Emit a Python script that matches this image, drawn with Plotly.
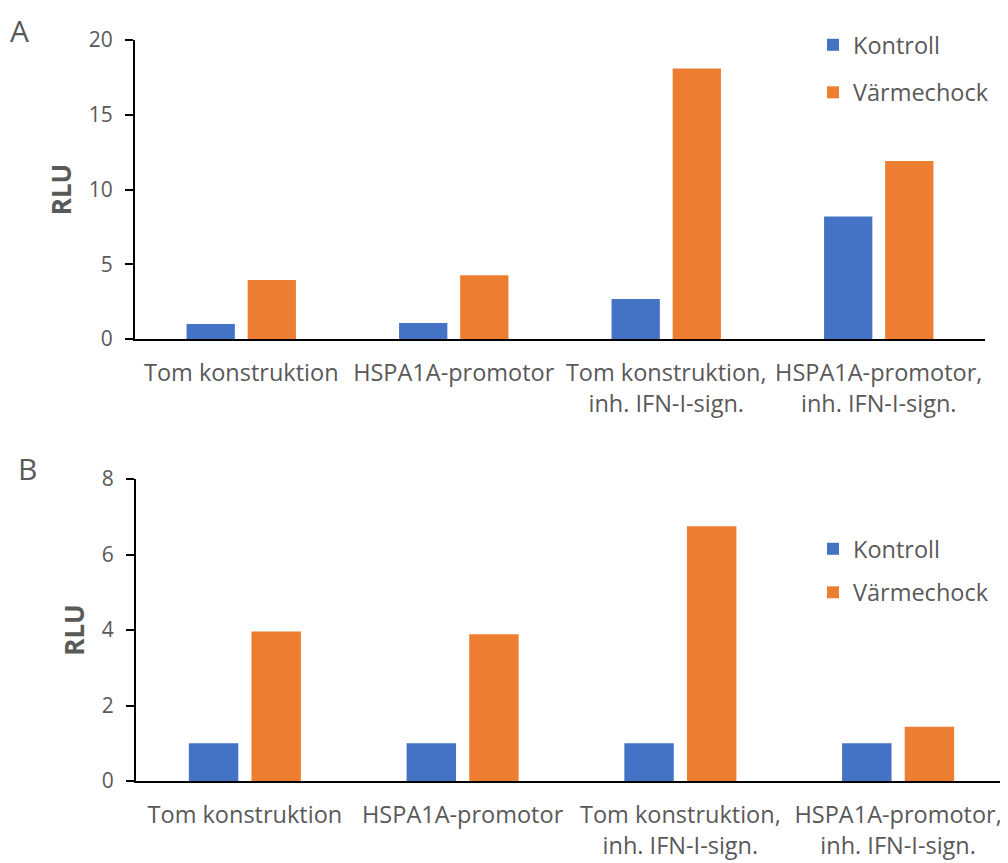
import plotly.graph_objects as go

categories_a = ["Tom konstruktion", "HSPA1A-promotor", "Tom konstruktion,<br>inh. IFN-I-sign.", "HSPA1A-promotor,<br>inh. IFN-I-sign."]
categories_b = ["Tom konstruktion", "HSPA1A-promotor", "Tom konstruktion,<br>inh. IFN-I-sign.", "HSPA1A-promotor,<br>inh. IFN-I-sign."]
kontroll_a = [1.0, 1.07, 2.67, 8.2]
varme_a = [3.95, 4.27, 18.1, 11.9]
kontroll_b = [1.0, 1.0, 1.0, 1.0]
varme_b = [3.96, 3.89, 6.75, 1.44]
yticks_a = [0, 5, 10, 15, 20]
yticks_b = [0, 2, 4, 6, 8]

BLUE = "#4472C4"
ORANGE = "#ED7D31"
GREY = "#595959"
FONT = "Open Sans"
OFF = 8  # page body margin
W, H = 1008 - OFF, 863 - OFF

fig = go.Figure()
fig.add_bar(x=categories_a, y=kontroll_a, name="Kontroll", marker_color=BLUE,
            xaxis="x", yaxis="y", legend="legend", legendgroup="a1")
fig.add_bar(x=categories_a, y=varme_a, name="Värmechock", marker_color=ORANGE,
            xaxis="x", yaxis="y", legend="legend", legendgroup="a2")
fig.add_bar(x=categories_b, y=kontroll_b, name="Kontroll", marker_color=BLUE,
            xaxis="x2", yaxis="y2", legend="legend2", legendgroup="b1")
fig.add_bar(x=categories_b, y=varme_b, name="Värmechock", marker_color=ORANGE,
            xaxis="x2", yaxis="y2", legend="legend2", legendgroup="b2")

def px(x):
    return (x - OFF) / W

def py(y):
    return 1 - (y - OFF) / H

xcommon = dict(showline=True, linecolor="black", linewidth=2, ticks="",
               tickfont=dict(family=FONT, size=23.5, color=GREY), automargin=False,
               showgrid=False, zeroline=False, ticklabelstandoff=12)
ycommon = dict(showline=True, linecolor="black", linewidth=2, ticks="outside",
               ticklen=8, tickwidth=2, tickcolor="black", automargin=False,
               tickfont=dict(family=FONT, size=21, color=GREY),
               showgrid=False, zeroline=False, ticklabelstandoff=8,
               title=dict(text="<b>RLU</b>", font=dict(family=FONT, size=26, color=GREY), standoff=10))

legcommon = dict(font=dict(family=FONT, size=23.5, color=GREY), bgcolor="rgba(0,0,0,0)",
                 xanchor="left", yanchor="top", traceorder="grouped")

fig.update_layout(
    template="none",
    width=W, height=H,
    margin=dict(l=0, r=0, t=0, b=0, pad=0),
    plot_bgcolor="white", paper_bgcolor="white",
    barmode="group", bargap=0.425, bargroupgap=0.21,
    xaxis=dict(domain=[px(135), px(985)], anchor="y", **xcommon),
    yaxis=dict(domain=[py(339), py(40)], anchor="x", range=[0, 20], tickvals=yticks_a, **ycommon),
    xaxis2=dict(domain=[px(136), min(1.0, px(1007))], anchor="y2", **xcommon),
    yaxis2=dict(domain=[py(781), py(479)], anchor="x2", range=[0, 8], tickvals=yticks_b, **ycommon),
    legend=dict(x=px(813), y=py(23), tracegroupgap=14, **legcommon),
    legend2=dict(x=px(813), y=py(527), tracegroupgap=10, **legcommon),
    annotations=[
        dict(text="A", x=px(8), y=py(8), xref="paper", yref="paper", xanchor="left", yanchor="top",
             showarrow=False, font=dict(family=FONT, size=30, color=GREY)),
        dict(text="B", x=px(16), y=py(446), xref="paper", yref="paper", xanchor="left", yanchor="top",
             showarrow=False, font=dict(family=FONT, size=30, color=GREY)),
    ],
)

fig.write_html("out.html")
